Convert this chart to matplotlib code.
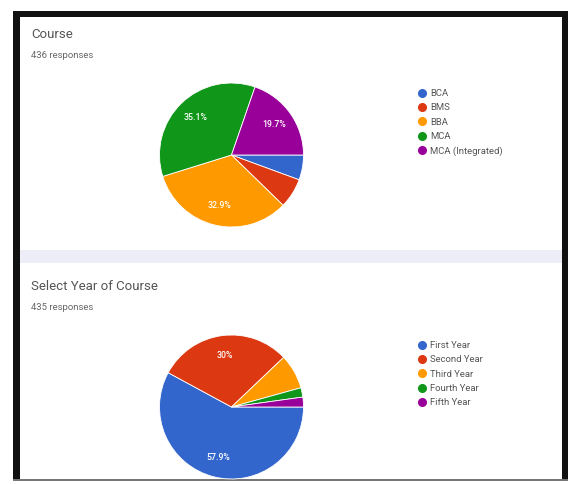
import matplotlib
matplotlib.use("Agg")
import matplotlib.pyplot as plt
from matplotlib.patches import Rectangle
from matplotlib.lines import Line2D

plt.rcParams["font.family"] = ["Roboto", "DejaVu Sans"]

# ── Data ──────────────────────────────────────────────────────────────────────
COURSE_TITLE = "Course"
COURSE_RESP = "436 responses"
COURSE_LABELS = ["BCA", "BMS", "BBA", "MCA", "MCA (Integrated)"]
COURSE_PCT = [5.6, 6.7, 32.9, 35.1, 19.7]

YEAR_TITLE = "Select Year of Course"
YEAR_RESP = "435 responses"
YEAR_LABELS = ["First Year", "Second Year", "Third Year", "Fourth Year", "Fifth Year"]
YEAR_PCT = [57.9, 30.0, 7.8, 2.1, 2.2]

COLORS = ["#3366cc", "#dc3912", "#ff9900", "#109618", "#990099"]

W, H = 571, 484
fig = plt.figure(figsize=(W / 100, H / 100), dpi=100)
fig.patch.set_facecolor("white")


def fx(px):
    return px / W


def fy(py):
    return 1 - py / H


def rect(x0, y0, x1, y1, color):
    fig.add_artist(Rectangle((fx(x0), fy(y1)), fx(x1) - fx(x0), fy(y0) - fy(y1),
                             transform=fig.transFigure, facecolor=color,
                             edgecolor="none", zorder=0))


# lavender band between the two cards
rect(20, 250, 562, 263, "#ededf7")
# screenshot frame
rect(13, 11, 568, 17, "#111111")
rect(13, 11, 20, 481, "#111111")
rect(562, 11, 568, 481, "#111111")
rect(13, 479, 568, 481, "#777777")


def pct_fmt(p):
    if p < 15:
        return ""
    return f"{p:.0f}%" if abs(p - round(p)) < 0.05 else f"{p:.1f}%"


def draw_card(title, resp, labels, values, ytop, cy):
    fig.text(fx(31), fy(ytop), title, fontsize=9.5, color="#555555", va="center")
    fig.text(fx(31), fy(ytop + 22), resp, fontsize=6.8, color="#666666", va="center")

    r = 72
    cx = 231.5
    ax = fig.add_axes([fx(cx - r), fy(cy + r), fx(2 * r), (2 * r) / H])
    ax.pie(values, colors=COLORS, startangle=0, counterclock=False,
           autopct=pct_fmt, pctdistance=0.72,
           wedgeprops=dict(edgecolor="white", linewidth=0.6),
           textprops=dict(color="white", fontsize=6.3, fontweight="medium"))
    ax.set_xlim(-1, 1)
    ax.set_ylim(-1, 1)
    ax.set_aspect("equal")
    ax.axis("off")

    handles = [Line2D([0], [0], marker="o", ls="none", markersize=5.5,
                      markerfacecolor=c, markeredgecolor=c, label=l)
               for c, l in zip(COLORS, labels)]
    fig.legend(handles=handles, loc="upper left",
               bbox_to_anchor=(fx(413), fy(cy - 70.5)),
               frameon=False, fontsize=6.8, labelspacing=0.55,
               handlelength=0.8, handletextpad=0.5, borderpad=0,
               labelcolor="#555555")


draw_card(COURSE_TITLE, COURSE_RESP, COURSE_LABELS, COURSE_PCT, 34, 155)
draw_card(YEAR_TITLE, YEAR_RESP, YEAR_LABELS, YEAR_PCT, 286, 407)

fig.savefig("out.png", dpi=100)
